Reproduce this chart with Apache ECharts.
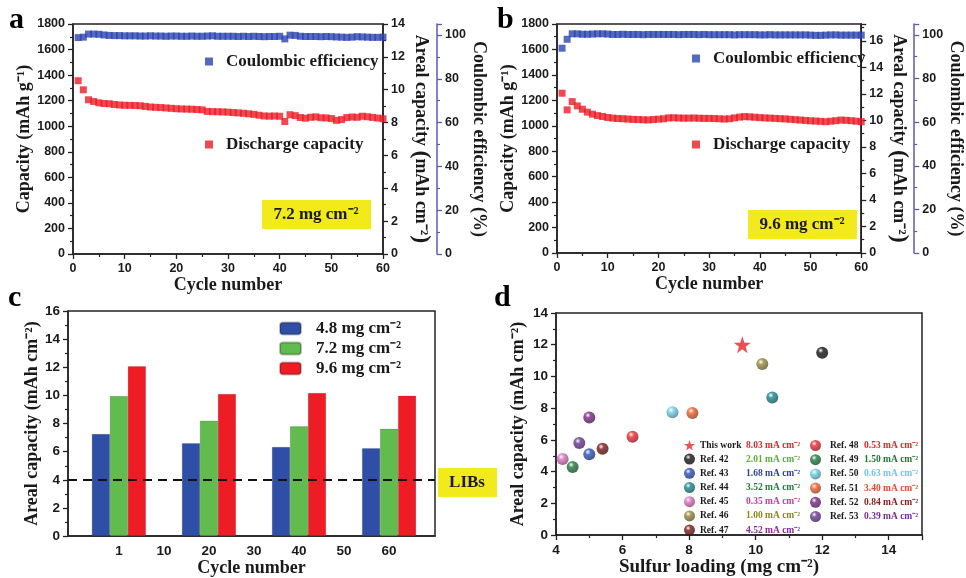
<!DOCTYPE html>
<html><head><meta charset="utf-8">
<script src="https://cdn.jsdelivr.net/npm/echarts@6/dist/echarts.min.js"></script>
<style>html,body{margin:0;padding:0;background:#fff}#c{width:966px;height:578px}</style>
</head><body><div id="c"></div>
<script>
// ---------- DATA ----------
const cycles = [1,2,3,4,5,6,7,8,9,10,11,12,13,14,15,16,17,18,19,20,21,22,23,24,25,26,27,28,29,30,
  31,32,33,34,35,36,37,38,39,40,41,42,43,44,45,46,47,48,49,50,51,52,53,54,55,56,57,58,59,60];
const aDischarge = [1356,1285,1207,1194,1183,1178,1176,1170,1166,1164, 1163,1162,1160,1155,1150,1148,1146,1143,1140,1137,
  1135,1134,1133,1131,1128,1116,1114,1113,1112,1110, 1107,1104,1101,1097,1093,1086,1080,1079,1080,1078,
  1037,1090,1083,1068,1063,1070,1073,1066,1065,1060, 1046,1052,1068,1072,1070,1078,1074,1069,1064,1058];
const aCE = [98.8,99.0,100.4,100.4,100.3,100.0,99.8,99.7,99.7,99.6, 99.6,99.6,99.5,99.5,99.6,99.5,99.5,99.4,99.5,99.5,
  99.4,99.4,99.5,99.4,99.4,99.5,99.6,99.4,99.4,99.4, 99.4,99.3,99.4,99.3,99.4,99.3,99.2,99.3,99.3,99.4,
  98.2,99.9,99.8,99.4,99.3,99.3,99.3,99.2,99.3,99.2, 99.1,99.0,98.9,99.0,99.2,99.1,99.0,98.9,98.9,99.0];
const bDischarge = [1256,1125,1190,1156,1130,1107,1091,1080,1073,1065, 1060,1057,1055,1053,1050,1049,1047,1046,1049,1052,
  1055,1062,1063,1061,1060,1060,1061,1059,1058,1058, 1057,1055,1053,1055,1062,1068,1072,1070,1067,1064,
  1062,1060,1058,1056,1054,1051,1048,1045,1042,1039, 1037,1035,1032,1036,1040,1045,1043,1040,1036,1032];
const bCE = [93.9,98.0,100.5,100.5,100.3,100.3,100.4,100.5,100.5,100.4, 100.2,100.2,100.3,100.2,100.2,100.2,100.1,100.2,100.2,100.2,
  100.2,100.2,100.2,100.1,100.2,100.2,100.2,100.1,100.2,100.1, 100.1,100.1,100.1,100.1,100.0,100.1,100.1,100.1,100.1,100.0,
  100.0,100.1,100.0,100.0,100.0,100.0,100.0,100.0,100.0,99.9, 99.8,99.8,99.9,100.0,100.0,99.9,99.9,99.9,99.9,99.9];

const cLoadings = ['4.8 mg cm⁻²','7.2 mg cm⁻²','9.6 mg cm⁻²'];
const cBarPos = [0,20,40,60];
const cAreal48 = [7.25,6.6,6.33,6.25];
const cAreal72 = [9.95,8.2,7.8,7.63];
const cAreal96 = [12.07,10.1,10.17,9.98];
const cTickPos = [0,10,20,30,40,50,60];
const cTickLabels = ['1','10','20','30','40','50','60'];
const libsLevel = 4;

const dNames = ['This work','Ref. 42','Ref. 43','Ref. 44','Ref. 45','Ref. 46','Ref. 47','Ref. 48','Ref. 49','Ref. 50','Ref. 51','Ref. 52','Ref. 53'];
const dLoading = [9.6,12.0,5.0,10.5,4.2,10.2,5.4,6.3,4.5,7.5,8.1,5.0,4.7];
const dCapacity = [12.0,11.5,5.1,8.68,4.8,10.78,5.44,6.2,4.3,7.75,7.7,7.42,5.8];
const dCurrent = ['8.03','2.01','1.68','3.52','0.35','1.00','4.52','0.53','1.50','0.63','3.40','0.84','0.39'];

// ---------- STYLES ----------
const dBall = ['#e3262b','#111111','#2a4fb8','#178890','#e070c0','#968a3a','#7a1515','#ee2830','#1d7a3c','#70d0ec','#f0602a','#7a2585','#6a3595'];
const dText = ['#e3262b','#5cb030','#2d3f9e','#1f7f3a','#c040a0','#8a8a1a','#8a2a9a','#e02828','#1a7a30','#6ec8e8','#e84a2a','#8a1a1a','#7a2a9a'];
const SERIF = '"Liberation Serif","Times New Roman",serif';
const SANS = '"Liberation Sans",Arial,sans-serif';
const INK = '#1a1a1a';
const star = 'path://M50,0 L61.8,35.1 L98.1,35.1 L68.8,56.7 L79.4,91 L50,70 L20.6,91 L31.2,56.7 L1.9,35.1 L38.2,35.1 Z';

function shade(hex, f){const n=parseInt(hex.slice(1),16);let r=n>>16,g=(n>>8)&255,b=n&255;
  r=Math.round(r*f);g=Math.round(g*f);b=Math.round(b*f);return 'rgb('+r+','+g+','+b+')';}
function ball(c){return {type:'radial',x:0.38,y:0.32,r:0.75,colorStops:[{offset:0,color:'#ffffff'},{offset:0.3,color:c},{offset:1,color:shade(c,0.55)}]};}

const plain = v=>String(v);
const lbl = (fs)=>({color:INK,fontFamily:SANS,fontWeight:'bold',fontSize:fs||12.5,formatter:plain});
const line = {onZero:false,lineStyle:{color:'#222',width:1.5}};
const tick = {inside:false,length:5,lineStyle:{color:'#222',width:1.3}};
const minor = {show:true,splitNumber:2,length:3,lineStyle:{color:'#222',width:1.2}};
const nameStyle = (fs)=>({color:INK,fontFamily:SERIF,fontWeight:'bold',fontSize:fs||18});
const richName = (pre, mid)=>({
  name:'{t|'+pre+'}{p|(}{t|'+mid+'}{p|)}',
  nameTextStyle:{rich:{t:{color:INK,fontFamily:SERIF,fontWeight:'bold',fontSize:18},p:{color:INK,fontFamily:SERIF,fontWeight:'bold',fontSize:24}}}
});
const CEC = '#5b5bb5';

function cycleX(gi){return {type:'value',gridIndex:gi,min:0,max:60,interval:10,axisLine:line,axisTick:tick,minorTick:minor,
  splitLine:{show:false},axisLabel:lbl(),name:'Cycle number',nameLocation:'middle',nameGap:17,nameTextStyle:nameStyle(18)};}
function capY(gi,gap){return {type:'value',gridIndex:gi,min:0,max:1800,interval:200,axisLine:line,axisTick:tick,minorTick:minor,
  splitLine:{show:false},axisLabel:lbl(),name:'Capacity (mAh g⁻¹)',nameLocation:'middle',nameGap:gap,nameTextStyle:nameStyle(18)};}
function arealY(gi,max,gap){return Object.assign({type:'value',gridIndex:gi,position:'right',min:0,max:max,interval:2,axisLine:line,axisTick:tick,minorTick:minor,
  splitLine:{show:false},axisLabel:Object.assign(lbl(),{showMaxLabel:max%2===0}),nameLocation:'middle',nameGap:gap,nameRotate:-90},richName('Areal capacity ','mAh cm⁻²'));}
function ceY(gi,off,gap){return {type:'value',gridIndex:gi,position:'right',offset:off,min:0,max:105,interval:20,
  axisLine:{onZero:false,lineStyle:{color:CEC,width:1.5}},axisTick:{inside:false,length:5,lineStyle:{color:CEC,width:1.3}},
  minorTick:{show:true,splitNumber:2,length:3,lineStyle:{color:CEC,width:1.2}},splitLine:{show:false},
  axisLabel:Object.assign(lbl(),{showMaxLabel:false}),name:'Coulombic efficiency (%)',nameLocation:'middle',nameGap:gap,nameRotate:-90,nameTextStyle:nameStyle(18)};}

const pairs=(xs,ys)=>xs.map((x,i)=>[x,ys[i]]);
const BLUE='#2b44b0', RED='#ee1c25';

function abLegend(name,left,top,color){return {left:left,top:top,padding:0,itemWidth:8,itemHeight:8,
  data:[{name:name,icon:'rect',itemStyle:{color:color}}],
  textStyle:{color:INK,fontFamily:SERIF,fontWeight:'bold',fontSize:17,padding:[0,0,0,8]}};}

const series=[];
series.push({name:'Coulombic efficiency',type:'scatter',xAxisIndex:0,yAxisIndex:2,symbol:'rect',symbolSize:7,itemStyle:{color:BLUE},data:pairs(cycles,aCE)});
series.push({name:'Discharge capacity',type:'scatter',xAxisIndex:0,yAxisIndex:0,symbol:'rect',symbolSize:7,itemStyle:{color:RED},data:pairs(cycles,aDischarge)});
series.push({name:'Coulombic efficiency',type:'scatter',xAxisIndex:1,yAxisIndex:5,symbol:'rect',symbolSize:7,itemStyle:{color:BLUE},data:pairs(cycles,bCE)});
series.push({name:'Discharge capacity',type:'scatter',xAxisIndex:1,yAxisIndex:3,symbol:'rect',symbolSize:7,itemStyle:{color:RED},data:pairs(cycles,bDischarge)});

const barCols=['#2f4ea6','#62bb4e','#ee1d25'];
[cAreal48,cAreal72,cAreal96].forEach((arr,k)=>{
  const s={name:cLoadings[k],type:'bar',xAxisIndex:2,yAxisIndex:6,barWidth:18,barGap:'0%',
    itemStyle:{color:barCols[k],borderColor:'rgba(0,0,0,0.25)',borderWidth:0.5},data:pairs(cBarPos,arr)};
  if(k===2){s.markLine={silent:true,symbol:'none',label:{show:false},lineStyle:{color:'#111',type:[9,6],width:2},data:[{yAxis:libsLevel}]};}
  series.push(s);
});

dNames.forEach((n,i)=>{
  series.push({name:n,type:'scatter',xAxisIndex:3,yAxisIndex:7,
    symbol: i===0?star:'circle', symbolSize: i===0?17:12,
    itemStyle:{color: i===0?dBall[0]:ball(dBall[i])},data:[[dLoading[i],dCapacity[i]]],z:i===0?5:3});
});

function dRich(nameW,padL){const r={n:{color:INK,fontFamily:SERIF,fontWeight:'bold',fontSize:9.5,width:nameW,padding:[0,0,0,padL]}};
  dText.forEach((c,i)=>{r['v'+i]={color:c,fontFamily:SERIF,fontWeight:'bold',fontSize:9.5};});return r;}
function dLegend(names,left,nameW,padL){return {left:left,top:440,orient:'vertical',padding:0,itemGap:3.2,itemWidth:11,itemHeight:11,
  data:names.map(n=>({name:n,icon:n==='This work'?star:'circle'})),
  formatter:name=>{const i=dNames.indexOf(name);return '{n|'+name+'}{v'+i+'|'+dCurrent[i]+' mA cm⁻²}';},
  textStyle:{rich:dRich(nameW,padL)}};}

const option={
  animation:false,backgroundColor:'#fff',
  grid:[
    {left:73,top:24,width:310,height:230,show:true,borderColor:'#222',borderWidth:1.5,backgroundColor:'transparent'},
    {left:557,top:24,width:310,height:229,show:true,borderColor:'#222',borderWidth:1.5,backgroundColor:'transparent'},
    {left:68,top:311,width:367,height:229,show:true,borderColor:'#222',borderWidth:1.5,backgroundColor:'transparent'},
    {left:556,top:313,width:366,height:229,show:true,borderColor:'#222',borderWidth:1.5,backgroundColor:'transparent'}
  ],
  xAxis:[
    cycleX(0), cycleX(1),
    {type:'value',gridIndex:2,min:-11.3,max:70.2,axisLine:line,axisTick:{show:false},splitLine:{show:false},
      axisLabel:Object.assign(lbl(13.5),{customValues:cTickPos,formatter:v=>cTickLabels[cTickPos.indexOf(v)]}),
      name:'Cycle number',nameLocation:'middle',nameGap:18,nameTextStyle:nameStyle(18)},
    {type:'value',gridIndex:3,min:4,max:15,interval:2,axisLine:line,axisTick:tick,minorTick:minor,splitLine:{show:false},
      axisLabel:Object.assign(lbl(13.5),{showMaxLabel:false}),name:'Sulfur loading (mg cm⁻²)',nameLocation:'middle',nameGap:15,
      nameTextStyle:Object.assign(nameStyle(19),{padding:[0,40,0,0]})}
  ],
  yAxis:[
    capY(0,37), arealY(0,14,24), ceY(0,54,26),
    capY(1,40), arealY(1,17.28,24), ceY(1,53,27),
    {type:'value',gridIndex:2,min:0,max:16,interval:2,axisLine:line,axisTick:tick,minorTick:minor,splitLine:{show:false},
      axisLabel:lbl(13.5),name:'Areal capacity (mAh cm⁻²)',nameLocation:'middle',nameGap:27,nameTextStyle:nameStyle(18)},
    {type:'value',gridIndex:3,min:0,max:14,interval:2,axisLine:line,axisTick:tick,minorTick:minor,splitLine:{show:false},
      axisLabel:lbl(13.5),name:'Areal capacity (mAh cm⁻²)',nameLocation:'middle',nameGap:29,nameTextStyle:nameStyle(18)}
  ],
  legend:[
    abLegend('Coulombic efficiency',205,53,BLUE),
    abLegend('Discharge capacity',205,136,RED),
    abLegend('Coulombic efficiency',692,50,BLUE),
    abLegend('Discharge capacity',692,136,RED),
    {left:279,top:320,orient:'vertical',padding:0,itemGap:3,itemWidth:21,itemHeight:12,data:cLoadings,
      textStyle:{color:INK,fontFamily:SERIF,fontWeight:'bold',fontSize:17,padding:[0,0,0,10]}},
    dLegend(dNames.slice(0,7),684,46,0),
    dLegend(dNames.slice(7),810,34,4)
  ],
  graphic:[
    {type:'rect',shape:{x:262,y:200,width:109,height:29},style:{fill:'#f2ea1a'}},
    {type:'text',x:316,y:215,style:{text:'7.2 mg cm⁻²',font:'bold 17px '+SERIF,fill:INK,align:'center',verticalAlign:'middle'}},
    {type:'rect',shape:{x:748,y:210,width:109,height:29},style:{fill:'#f2ea1a'}},
    {type:'text',x:802,y:225,style:{text:'9.6 mg cm⁻²',font:'bold 17px '+SERIF,fill:INK,align:'center',verticalAlign:'middle'}},
    {type:'rect',shape:{x:438,y:468,width:59,height:29},style:{fill:'#f2ea1a'}},
    {type:'text',x:467,y:483,style:{text:'LIBs',font:'bold 17px '+SERIF,fill:INK,align:'center',verticalAlign:'middle'}},
    {type:'text',x:9,y:5,style:{text:'a',font:'bold 30px '+SERIF,fill:'#000'}},
    {type:'text',x:497,y:5,style:{text:'b',font:'bold 30px '+SERIF,fill:'#000'}},
    {type:'text',x:8,y:283,style:{text:'c',font:'bold 30px '+SERIF,fill:'#000'}},
    {type:'text',x:494,y:283,style:{text:'d',font:'bold 30px '+SERIF,fill:'#000'}}
  ],
  series:series
};
const chart=echarts.init(document.getElementById('c'));
chart.setOption(option);
</script></body></html>
